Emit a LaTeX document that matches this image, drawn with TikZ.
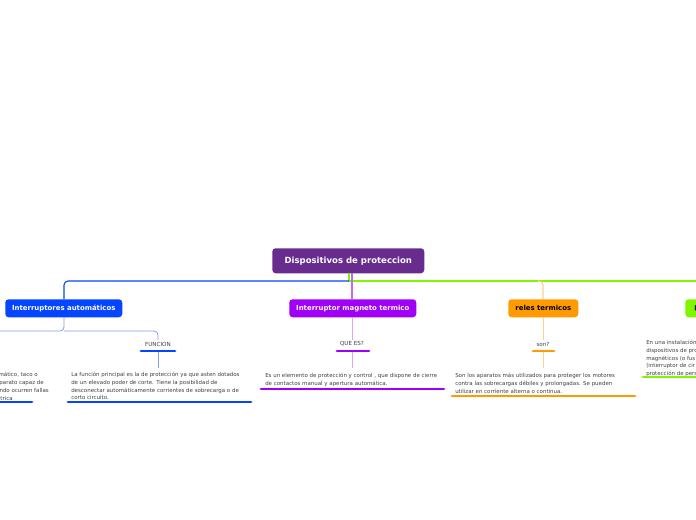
\documentclass[tikz,border=0pt]{standalone}
\usepackage{fontspec}
\setmainfont{DejaVu Sans}
\begin{document}
\begin{tikzpicture}[x=0.75pt,y=-0.75pt,
  main/.style={rounded corners=2.5pt,text=white,font=\bfseries\fontsize{5.2}{6}\selectfont,inner sep=0,anchor=north west},
  lab/.style={font=\fontsize{4.2}{5}\selectfont,text=black!75,inner sep=0},
  body/.style={font=\fontsize{4.1}{5.8}\selectfont,text=black!75,inner sep=0,anchor=north west,align=left},
  ul/.style={line width=2.2pt,line cap=round}]
\definecolor{rootc}{HTML}{682C8E}
\definecolor{bluec}{HTML}{0545FF}
\definecolor{lblue}{HTML}{80A0F0}
\definecolor{purc}{HTML}{A000F5}
\definecolor{lpur}{HTML}{DFA0FF}
\definecolor{orc}{HTML}{FF9A00}
\definecolor{lor}{HTML}{FFCF90}
\definecolor{grc}{HTML}{80F500}
\useasboundingbox (0,0) rectangle (696,520);
\clip (0,0) rectangle (696,520);
\fill[white] (0,0) rectangle (696,520);
% root
\node[main,fill=rootc,font=\bfseries\fontsize{6.4}{7}\selectfont,minimum width=152*0.75pt,minimum height=25*0.75pt] (root) at (272,248) {Dispositivos de proteccion};
\coordinate (j) at (349,281);
% connectors from root
\draw[grc,line width=0.8pt] (349,273) -- (j) -- (700,281);
\draw[bluec,line width=0.8pt,rounded corners=3pt] (349,281) -- (64,281) -- (64,299);
\draw[purc!60,line width=0.8pt] (352,273) -- (352,299);
\draw[lor,line width=0.8pt,rounded corners=3pt] (538,281) -- (543,281) -- (543,299);
% level 1 nodes
\node[main,fill=bluec,minimum width=117*0.75pt,minimum height=18*0.75pt] (ia) at (5,299) {Interruptores automáticos};
\node[main,fill=purc,minimum width=127*0.75pt,minimum height=18*0.75pt] (im) at (289,299) {Interruptor magneto termico};
\node[main,fill=orc,text=black,minimum width=70*0.75pt,minimum height=18*0.75pt] (rt) at (508,299) {reles termicos};
\node[main,fill=grc,text=black,minimum width=40*0.75pt,minimum height=18*0.75pt,align=left,text width=30*0.75pt] (gr) at (685,299) {\hspace*{3pt}p};
% blue branch
\draw[lblue,line width=0.6pt,rounded corners=3pt] (64,317) -- (64,331) -- (-5,331);
\draw[lblue,line width=0.6pt,rounded corners=3pt] (64,331) -- (158,331) -- (158,340);
\node[lab] (fn) at (158,344) {FUNCION};
\draw[ul,bluec] (141,351) -- (175,351);
\draw[lblue,line width=0.6pt] (158,352) -- (158,368);
\node[body] (fnt) at (71,372) {La función principal es la de protección ya que asten dotados\\de un elevado poder de corte. Tiene la posibilidad de\\desconectar automáticamente corrientes de sobrecarga o de\\corto circuito.};
\draw[ul,bluec] (68,402) -- (251,402);
\node[body,anchor=north east] at (38,372) {mático, taco o};
\node[body,anchor=north east] at (44,380) {parato capaz de};
\node[body,anchor=north east] at (49,388) {ndo ocurren fallas};
\node[body,anchor=north east] at (13,396) {trica};
\draw[ul,bluec] (-5,402) -- (32,402);
% purple branch
\draw[lpur,line width=0.6pt] (352,317) -- (352,340);
\node[lab] (qe) at (352,344) {QUE ES?};
\draw[ul,purc] (337,351) -- (369,351);
\draw[lpur,line width=0.6pt] (352,352) -- (352,368);
\node[body] (qet) at (265,373) {Es un elemento de protección y control , que dispone de cierre\\de contactos manual y apertura automática.};
\draw[ul,purc] (261,389) -- (444,389);
% orange branch
\draw[lor,line width=0.6pt] (543,317) -- (543,340);
\node[lab] (so) at (543,344) {son?};
\draw[ul,orc] (533,351) -- (554,351);
\draw[lor,line width=0.6pt] (543,352) -- (543,368);
\node[body] (sot) at (455,373) {Son los aparatos más utilizados para proteger los motores\\contra las sobrecargas débiles y prolongadas. Se pueden\\utilizar en corriente alterna o continua.};
\draw[ul,orc] (452,396) -- (635,396);
% green branch
\node[body] (grt) at (646,340) {En una instalación\\dispositivos de pro\\magnéticos (o fus\\(interruptor de cir\\protección de pers};
\draw[ul,grc] (643,377) -- (700,377);
\end{tikzpicture}
\end{document}
